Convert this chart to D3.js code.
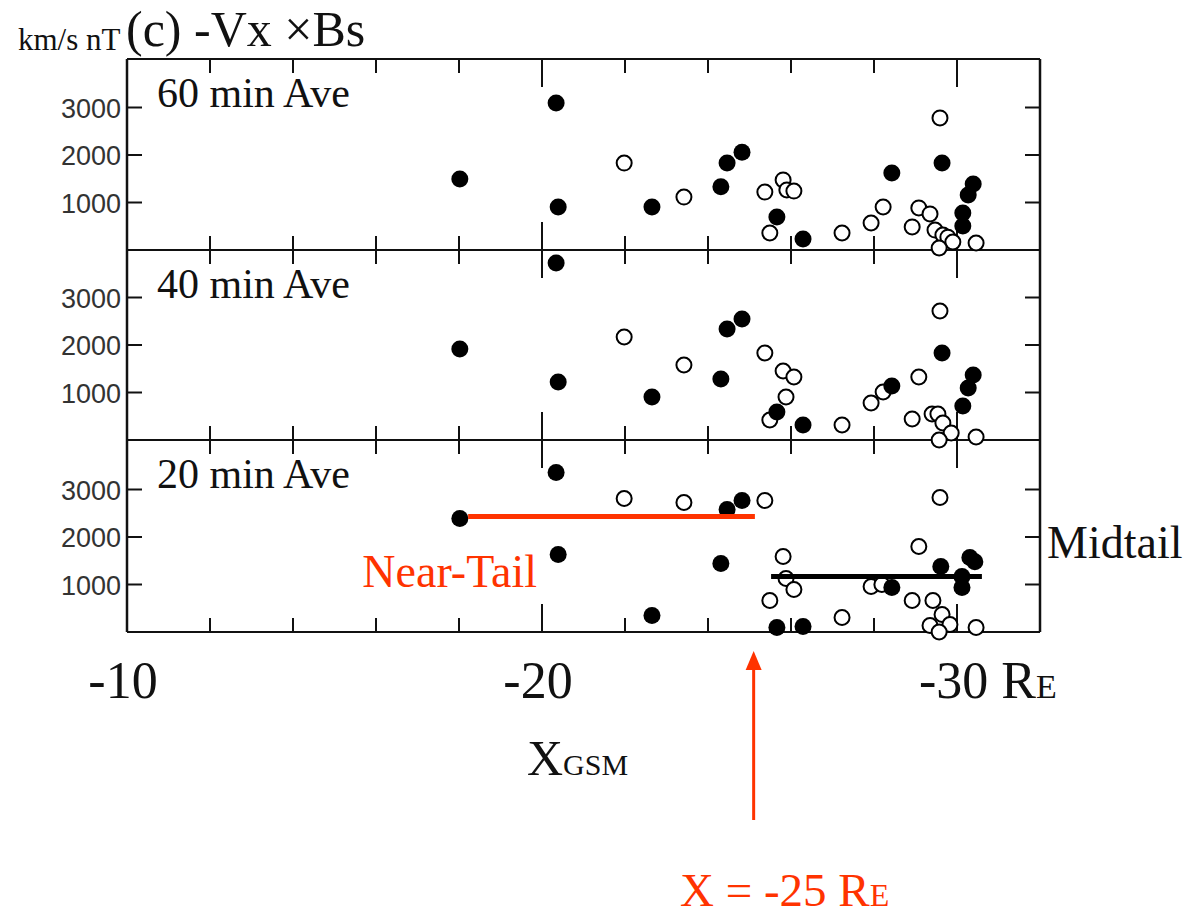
<!DOCTYPE html>
<html>
<head>
<meta charset="utf-8">
<script src="https://cdn.jsdelivr.net/npm/d3@7"></script>
<style>
  body { margin: 0; background: #fff; }
  svg { display: block; }
</style>
</head>
<body>
<svg id="chart" width="1195" height="918"></svg>
<script>
// panel labels and axis ticks
const panelNames = ["60 min Ave", "40 min Ave", "20 min Ave"];
const yTicks = [1000, 2000, 3000];
const xMinorTicks = [-12, -14, -16, -18, -20, -22, -24, -26, -28, -30];
const xMajorTicks = [-20, -30];
const xLabels = [-10, -20, -30];

// [X_GSM (RE), -Vx*Bs (km/s nT)]
const filled60 = [[-18.02, 1495], [-20.34, 3095], [-20.39, 905], [-22.65, 905], [-24.31, 1330],
  [-24.46, 1830], [-24.82, 2060], [-25.66, 695], [-26.29, 232], [-28.43, 1620], [-29.64, 1830],
  [-30.14, 780], [-30.14, 505], [-30.27, 1158], [-30.39, 1390]];
const open60 = [[-21.98, 1830], [-23.42, 1115], [-25.37, 1220], [-25.81, 1475], [-25.90, 1265],
  [-26.07, 1240], [-25.49, 358], [-27.23, 358], [-27.93, 568], [-28.22, 905], [-28.92, 485],
  [-29.08, 885], [-29.35, 760], [-29.47, 420], [-29.66, 316], [-29.78, 270], [-29.90, 168],
  [-29.57, 42], [-30.46, 147], [-29.59, 2780]];

const filled40 = [[-20.34, 3726], [-18.02, 1916], [-20.39, 1221], [-22.65, 905], [-24.31, 1284],
  [-24.46, 2337], [-24.82, 2547], [-25.66, 590], [-26.29, 316], [-28.43, 1137], [-29.64, 1832],
  [-30.14, 716], [-30.27, 1095], [-30.39, 1368]];
const open40 = [[-21.98, 2168], [-23.42, 1579], [-25.37, 1832], [-25.81, 1453], [-26.07, 1326],
  [-25.88, 905], [-25.49, 421], [-27.23, 316], [-27.93, 779], [-28.22, 1010], [-29.08, 1326],
  [-29.59, 2716], [-28.92, 442], [-29.40, 547], [-29.54, 547], [-29.66, 358], [-29.86, 147],
  [-29.57, 0], [-30.46, 63]];

const filled20 = [[-20.34, 3358], [-18.02, 2389], [-20.39, 1632], [-22.65, 347], [-24.31, 1442],
  [-24.46, 2579], [-24.82, 2768], [-25.66, 95], [-26.29, 116], [-28.43, 937], [-29.61, 1379],
  [-30.31, 1568], [-30.43, 1480], [-30.12, 1168], [-30.12, 937]];
const open20 = [[-21.98, 2810], [-23.42, 2726], [-25.37, 2768], [-25.81, 1589], [-25.88, 1126],
  [-26.07, 895], [-25.49, 663], [-27.23, 305], [-27.93, 958], [-28.19, 1000], [-28.92, 663],
  [-29.08, 1800], [-29.59, 2831], [-29.42, 663], [-29.64, 368], [-29.35, 137], [-29.83, 158],
  [-29.57, 0], [-30.46, 95]];

// region averages drawn on the 20 min panel
const nearTail = { x0: -18.22, x1: -25.13, y: 2432 };
const midTail = { x0: -25.52, x1: -30.6, y: 1168 };
const boundaryX = -25.1;

const red = "#ff3300";
const serif = "'Liberation Serif', 'Times New Roman', serif";
const sans = "'Liberation Sans', Arial, sans-serif";

const svg = d3.select("#chart");
svg.append("rect").attr("width", 1195).attr("height", 918).attr("fill", "#fff");

const x = d3.scaleLinear().domain([-10, -32]).range([127, 1040]);
const panelBottoms = [250, 440, 632];
const panelTop = 59;

const panels = [
  { name: panelNames[0], filled: filled60, open: open60 },
  { name: panelNames[1], filled: filled40, open: open40 },
  { name: panelNames[2], filled: filled20, open: open20 }
];

panels.forEach((p, i) => {
  const bottom = panelBottoms[i];
  const top = i === 0 ? panelTop : panelBottoms[i - 1];
  const y = d3.scaleLinear().domain([0, 4000]).range([bottom, bottom - 190]);
  p.y = y;
  const g = svg.append("g");

  // x ticks on top (down) and bottom (up)
  const tickLen = (d) => (xMajorTicks.includes(d) ? 28 : 14);
  g.selectAll("line.tt")
    .data(xMinorTicks)
    .enter()
    .append("line")
    .attr("x1", (d) => x(d)).attr("x2", (d) => x(d))
    .attr("y1", top).attr("y2", (d) => top + tickLen(d))
    .attr("stroke", "#111").attr("stroke-width", 2);
  g.selectAll("line.bt")
    .data(xMinorTicks)
    .enter()
    .append("line")
    .attr("x1", (d) => x(d)).attr("x2", (d) => x(d))
    .attr("y1", bottom).attr("y2", (d) => bottom - tickLen(d))
    .attr("stroke", "#111").attr("stroke-width", 2);

  // y ticks, both sides, inward
  g.selectAll("line.yl")
    .data(yTicks)
    .enter()
    .append("line")
    .attr("x1", x(-10)).attr("x2", x(-10) + 15)
    .attr("y1", (d) => y(d)).attr("y2", (d) => y(d))
    .attr("stroke", "#111").attr("stroke-width", 2);
  g.selectAll("line.yr")
    .data(yTicks)
    .enter()
    .append("line")
    .attr("x1", x(-32)).attr("x2", x(-32) - 15)
    .attr("y1", (d) => y(d)).attr("y2", (d) => y(d))
    .attr("stroke", "#111").attr("stroke-width", 2);

  g.selectAll("text.yl")
    .data(yTicks)
    .enter()
    .append("text")
    .attr("x", x(-10) - 6)
    .attr("y", (d) => y(d) + 10)
    .attr("text-anchor", "end")
    .style("font-family", sans)
    .style("font-size", "27px")
    .attr("fill", "#333")
    .text((d) => d);

  g.append("text")
    .attr("x", 157)
    .attr("y", top + 48)
    .style("font-family", serif)
    .style("font-size", "42px")
    .attr("fill", "#111")
    .text(p.name);

  // horizontal frame line at panel bottom
  g.append("line")
    .attr("x1", x(-10)).attr("x2", x(-32))
    .attr("y1", bottom).attr("y2", bottom)
    .attr("stroke", "#111").attr("stroke-width", 2);

  g.selectAll("circle.open")
    .data(p.open)
    .enter()
    .append("circle")
    .attr("cx", (d) => x(d[0]))
    .attr("cy", (d) => y(d[1]))
    .attr("r", 7.5)
    .attr("fill", "#fff")
    .attr("stroke", "#000")
    .attr("stroke-width", 2);

  g.selectAll("circle.filled")
    .data(p.filled)
    .enter()
    .append("circle")
    .attr("cx", (d) => x(d[0]))
    .attr("cy", (d) => y(d[1]))
    .attr("r", 8.5)
    .attr("fill", "#000");
});

// outer frame
svg.append("line")
  .attr("x1", x(-10)).attr("x2", x(-32))
  .attr("y1", panelTop).attr("y2", panelTop)
  .attr("stroke", "#111").attr("stroke-width", 2);
svg.append("line")
  .attr("x1", x(-10)).attr("x2", x(-10))
  .attr("y1", panelTop).attr("y2", panelBottoms[2])
  .attr("stroke", "#111").attr("stroke-width", 2.5);
svg.append("line")
  .attr("x1", x(-32)).attr("x2", x(-32))
  .attr("y1", panelTop).attr("y2", panelBottoms[2])
  .attr("stroke", "#111").attr("stroke-width", 2.5);

// average lines on the 20 min panel
const y20 = panels[2].y;
svg.append("line")
  .attr("x1", x(nearTail.x0)).attr("x2", x(nearTail.x1))
  .attr("y1", y20(nearTail.y)).attr("y2", y20(nearTail.y))
  .attr("stroke", red).attr("stroke-width", 5);
svg.append("line")
  .attr("x1", x(midTail.x0)).attr("x2", x(midTail.x1))
  .attr("y1", y20(midTail.y)).attr("y2", y20(midTail.y))
  .attr("stroke", "#000").attr("stroke-width", 5);

// title
svg.append("text")
  .attr("x", 18).attr("y", 50)
  .style("font-family", serif).style("font-size", "31px")
  .attr("fill", "#111")
  .text("km/s nT");
svg.append("text")
  .attr("x", 126).attr("y", 46)
  .style("font-family", serif).style("font-size", "50px")
  .attr("fill", "#111")
  .text("(c) -Vx \u00d7Bs");

// x tick labels
svg.selectAll("text.xl")
  .data(xLabels.slice(0, 2))
  .enter()
  .append("text")
  .attr("x", (d) => x(d) - 4)
  .attr("y", 698)
  .attr("text-anchor", "middle")
  .style("font-family", serif).style("font-size", "52px")
  .attr("fill", "#111")
  .text((d) => d);
const lastLabel = svg.append("text")
  .attr("x", x(xLabels[2]) - 38)
  .attr("y", 698)
  .style("font-family", serif).style("font-size", "52px")
  .attr("fill", "#111");
lastLabel.append("tspan").text(xLabels[2] + " R");
lastLabel.append("tspan").style("font-size", "34px").text("E");

// x axis title
const xTitle = svg.append("text")
  .attr("x", 527).attr("y", 775)
  .style("font-family", serif).style("font-size", "50px")
  .attr("fill", "#111");
xTitle.append("tspan").text("X");
xTitle.append("tspan").style("font-size", "30px").text("GSM");

// annotations
svg.append("text")
  .attr("x", 537).attr("y", 587)
  .attr("text-anchor", "end")
  .style("font-family", serif).style("font-size", "46px")
  .attr("fill", red)
  .text("Near-Tail");
svg.append("text")
  .attr("x", 1047).attr("y", 558)
  .style("font-family", serif).style("font-size", "46px")
  .attr("fill", "#111")
  .text("Midtail");

const ax = x(boundaryX);
svg.append("line")
  .attr("x1", ax).attr("x2", ax)
  .attr("y1", 820).attr("y2", 664)
  .attr("stroke", red).attr("stroke-width", 3);
svg.append("path")
  .attr("d", `M${ax},651 L${ax - 8},670 L${ax + 8},670 Z`)
  .attr("fill", red);

const bLabel = svg.append("text")
  .attr("x", 680).attr("y", 906)
  .style("font-family", serif).style("font-size", "47px")
  .attr("fill", red);
bLabel.append("tspan").text("X = -25 R");
bLabel.append("tspan").style("font-size", "32px").text("E");
</script>
</body>
</html>
